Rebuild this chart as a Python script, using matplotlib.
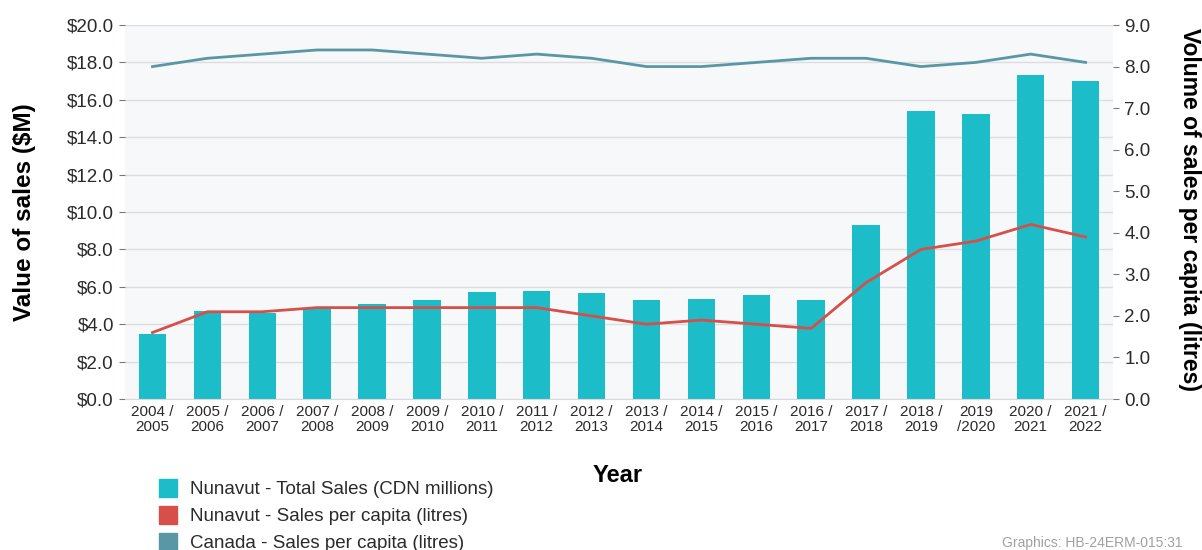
import matplotlib
matplotlib.use("Agg")
import matplotlib.pyplot as plt
from matplotlib.patches import Patch
import numpy as np

plt.rcParams['font.family'] = ['Liberation Sans', 'DejaVu Sans']

# Data
years = ["2004 /\n2005", "2005 /\n2006", "2006 /\n2007", "2007 /\n2008",
         "2008 /\n2009", "2009 /\n2010", "2010 /\n2011", "2011 /\n2012",
         "2012 /\n2013", "2013 /\n2014", "2014 /\n2015", "2015 /\n2016",
         "2016 /\n2017", "2017 /\n2018", "2018 /\n2019", "2019\n/2020",
         "2020 /\n2021", "2021 /\n2022"]
nu_total_sales = [3.5, 4.7, 4.6, 4.8, 5.1, 5.3, 5.7, 5.8, 5.65, 5.3,
                  5.35, 5.55, 5.3, 9.3, 15.4, 15.25, 17.35, 17.0]
nu_per_capita = [1.6, 2.1, 2.1, 2.2, 2.2, 2.2, 2.2, 2.2, 2.0, 1.8,
                 1.9, 1.8, 1.7, 2.8, 3.6, 3.8, 4.2, 3.9]
ca_per_capita = [8.0, 8.2, 8.3, 8.4, 8.4, 8.3, 8.2, 8.3, 8.2, 8.0,
                 8.0, 8.1, 8.2, 8.2, 8.0, 8.1, 8.3, 8.1]

bar_color = "#1dbcc9"
red = "#d64f49"
teal = "#5a97a6"
text_color = "#2b2b2b"

fig = plt.figure(figsize=(12.02, 5.5), dpi=100)
ax = fig.add_axes([0.104, 0.2745, 0.822, 0.68])
ax2 = ax.twinx()

x = np.arange(len(years))
ax.set_facecolor("#f7f8fa")
ax.bar(x, nu_total_sales, width=0.5, color=bar_color, zorder=2)
ax.set_ylim(0, 20)
ax.set_yticks(np.arange(0, 21, 2))
ax.set_yticklabels(["$%.1f" % v for v in np.arange(0, 21, 2)])
ax.set_xlim(-0.5, len(years) - 0.5)
ax.set_xticks(x)
ax.set_xticklabels(years, fontsize=11, linespacing=1.15, color=text_color)
ax.yaxis.grid(True, color="#dcdde0", linewidth=1, zorder=0)
ax.set_axisbelow(True)

ax2.plot(x, nu_per_capita, color=red, lw=2, zorder=3)
ax2.plot(x, ca_per_capita, color=teal, lw=2, zorder=3)
ax2.set_ylim(0, 9)
ax2.set_yticks(np.arange(0, 10, 1))
ax2.set_yticklabels(["%.1f" % v for v in np.arange(0, 10, 1)])

for a in (ax, ax2):
    for s in a.spines.values():
        s.set_visible(False)
ax.spines['bottom'].set_visible(True)
ax.spines['bottom'].set_color("#d8d9dc")

ax.tick_params(axis='y', labelsize=13.5, length=4, color="#777777",
               labelcolor=text_color, pad=4)
ax2.tick_params(axis='y', labelsize=13.5, length=4, color="#777777",
                labelcolor=text_color, pad=4)
ax.tick_params(axis='x', length=0, pad=4)

fig.text(25 / 1202, 1 - 212 / 550, "Value of sales ($M)", fontsize=17.5,
         fontweight='bold', rotation=90, ha='center', va='center')
fig.text(1190 / 1202, 1 - 209 / 550, "Volume of sales per capita (litres)",
         fontsize=16.5, fontweight='bold', rotation=270, ha='center', va='center')

fig.text(618 / 1202, 1 - 475 / 550, "Year", fontsize=17, fontweight='bold',
         ha='center', va='center')

handles = [Patch(color=bar_color, label="Nunavut - Total Sales (CDN millions)"),
           Patch(color=red, label="Nunavut - Sales per capita (litres)"),
           Patch(color=teal, label="Canada - Sales per capita (litres)")]
leg = fig.legend(handles=handles, loc='lower left', bbox_to_anchor=(0.118, -0.035),
                 frameon=False, fontsize=13.5, handlelength=1.0, handleheight=1.1,
                 handletextpad=0.65, labelspacing=0.42)
for t in leg.get_texts():
    t.set_color(text_color)

fig.text(1183 / 1202, 1 - 543 / 550, "Graphics: HB-24ERM-015:31", fontsize=10,
         color="#a0a0a0", ha='right', va='center')

fig.savefig("out.png", dpi=100)
